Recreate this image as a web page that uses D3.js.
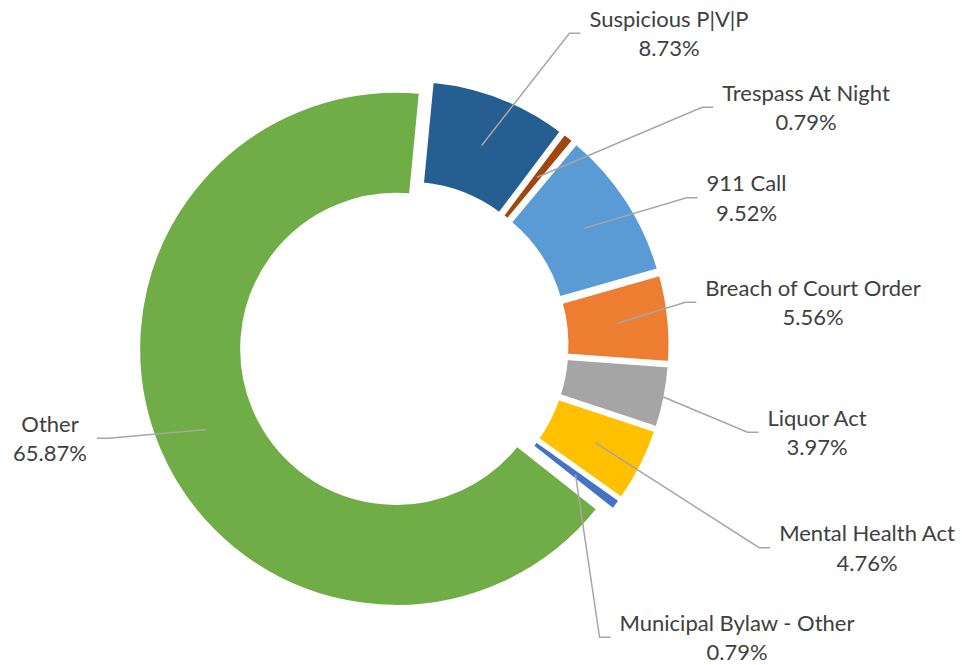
<!DOCTYPE html>
<html>
<head>
<meta charset="utf-8">
<script src="https://cdn.jsdelivr.net/npm/d3@7"></script>
<style>
  html, body { margin: 0; padding: 0; background: #fff; }
  svg { display: block; }
  .label { font-family: Lato, "Open Sans", sans-serif; font-size: 22px; fill: #404040; }
</style>
</head>
<body>
<svg id="donut" width="962" height="665"></svg>
<script>
// chart data
const categories = ["Suspicious P|V|P", "Trespass At Night", "911 Call", "Breach of Court Order",
                    "Liquor Act", "Mental Health Act", "Municipal Bylaw - Other", "Other"]
const shares = [8.73, 0.79, 9.52, 5.56, 3.97, 4.76, 0.79, 65.87]
const colors = ["#255E91", "#9E480E", "#5B9BD5", "#ED7D31", "#A5A5A5", "#FFC000", "#4472C4", "#70AD47"]

// where the labels were dragged to in the original (x = centre of text, y = leader line height)
const labelAt = [[669, 33.3], [806, 107.3], [746.5, 197.7], [813, 302.3],
                 [817, 432.3], [867, 547.7], [737, 637.3], [50, 438.3]]
// this one's leader stops at the slice edge instead of the middle
const leaderFromEdge = ["Liquor Act"]

const cx = 404, cy = 345.5
const innerRadius = 154
const outerRadius = 258
const explode = 8.5
const startAngle = 5.5 * Math.PI / 180

const svg = d3.select("#donut")

const color = d3.scaleOrdinal()
    .domain(categories)
    .range(colors)

const data = categories.map((name, i) => ({ name: name, value: shares[i] }))

const pie = d3.pie()
    .sort(null)
    .value(d => d.value)
    .startAngle(startAngle)
    .endAngle(startAngle + 2 * Math.PI)
const arc = d3.arc().innerRadius(innerRadius).outerRadius(outerRadius)
const arcs = pie(data)

function shift(d) {
    const a = (d.startAngle + d.endAngle) / 2
    return [Math.sin(a) * explode, -Math.cos(a) * explode]
}

const chart = svg.append("g").attr("transform", `translate(${cx},${cy})`)

chart.selectAll("path")
    .data(arcs)
    .join("path")
    .attr("transform", d => `translate(${shift(d)})`)
    .attr("d", arc)
    .attr("fill", d => color(d.data.name))
    .attr("stroke", "#fff")
    .attr("stroke-width", 4)

// labels first so we can measure them for the leader lines
const labels = svg.append("g")
    .selectAll("text")
    .data(arcs)
    .join("text")
    .attr("class", "label")
    .attr("text-anchor", "middle")

labels.append("tspan")
    .attr("x", (d, i) => labelAt[i][0])
    .attr("y", (d, i) => labelAt[i][1] - 6.3)
    .text(d => d.data.name)
labels.append("tspan")
    .attr("x", (d, i) => labelAt[i][0])
    .attr("y", (d, i) => labelAt[i][1] + 22.8)
    .text(d => d.data.value.toFixed(2) + "%")

const leaders = []
labels.each(function (d, i) {
    const box = this.getBBox()
    const s = shift(d)
    let p
    if (leaderFromEdge.includes(d.data.name)) {
        const a = (d.startAngle + d.endAngle) / 2
        const r = outerRadius - 2
        p = [cx + s[0] + Math.sin(a) * r, cy + s[1] - Math.cos(a) * r]
    } else {
        const c = arc.centroid(d)
        p = [cx + s[0] + c[0], cy + s[1] + c[1]]
    }
    const y = labelAt[i][1]
    let end, knee
    if (labelAt[i][0] > p[0]) {
        end = [box.x - 9, y]
        knee = [end[0] - 11, y]
    } else {
        end = [box.x + box.width + 10, y]
        knee = [end[0] + 12, y]
    }
    leaders.push([p, knee, end])
})

svg.insert("g", "g:nth-of-type(2)")
    .attr("fill", "none")
    .attr("stroke", "#A6A6A6")
    .attr("stroke-width", 1.5)
    .selectAll("path")
    .data(leaders)
    .join("path")
    .attr("d", d3.line())
</script>
</body>
</html>
